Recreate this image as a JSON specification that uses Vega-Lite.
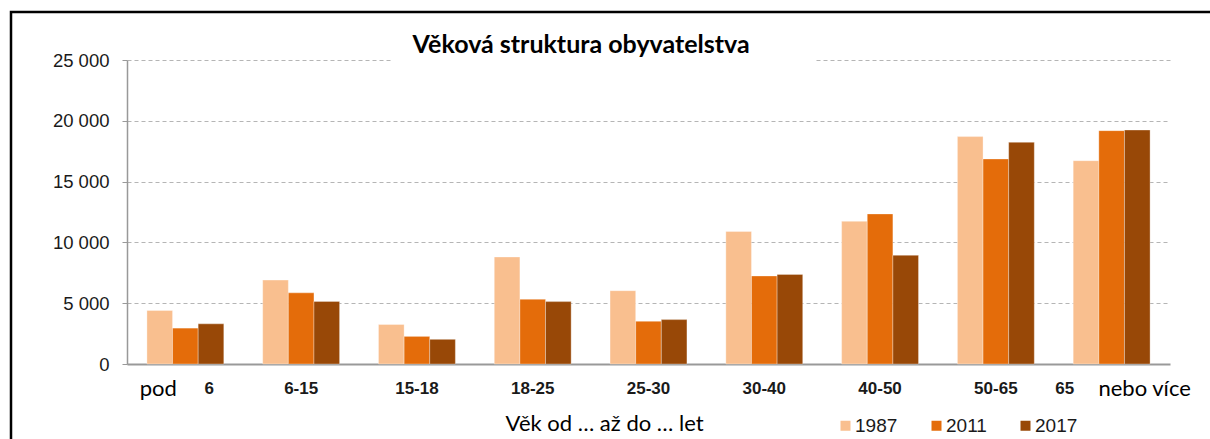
{
  "$schema": "https://vega.github.io/schema/vega-lite/v6.json",
  "autosize": {"type": "none"},
  "padding": {"left": 11, "top": 12, "right": -3, "bottom": -3},
  "width": 1202,
  "height": 430,
  "background": "white",
  "config": {
    "view": {"stroke": "black", "strokeWidth": 2.5}
  },
  "title": {
    "text": "Věková struktura obyvatelstva",
    "font": "Lato",
    "fontSize": 25,
    "fontWeight": "bold",
    "color": "black",
    "anchor": "middle",
    "frame": "group",
    "offset": -41,
    "baseline": "alphabetic",
    "dx": -31,
    "dy": 25
  },
  "encoding": {
    "x": {
      "field": "cat",
      "type": "nominal",
      "sort": null,
      "scale": {
        "domain": ["pod 6", "6-15", "15-18", "18-25", "25-30", "30-40", "40-50", "50-65", "65 nebo více"],
        "range": [116, 1159],
        "paddingInner": 0.336,
        "paddingOuter": 0.172
      },
      "axis": {
        "offset": -78,
        "ticks": false,
        "labelAngle": 0,
        "labelExpr": "datum.value == 'pod 6' ? '6' : datum.value == '65 nebo více' ? '65' : datum.value",
        "labelOffset": {
          "condition": [
            {"test": "datum.value == 'pod 6'", "value": 24},
            {"test": "datum.value == '65 nebo více'", "value": -47}
          ],
          "value": 0
        },
        "labelFont": "Liberation Sans",
        "labelFontSize": 17,
        "labelFontWeight": "bold",
        "labelColor": "#1a1a1a",
        "labelBaseline": "alphabetic",
        "labelPadding": 29,
        "domainColor": "#999999",
        "domainWidth": 2,
        "title": "Věk od … až do … let",
        "titleFont": "Lato",
        "titleFontSize": 22,
        "titleFontWeight": "normal",
        "titleColor": "black",
        "titleX": 593,
        "titleY": 66,
        "titleBaseline": "alphabetic",
        "titleAlign": "center"
      }
    }
  },
  "layer": [
    {
      "data": {
        "values": [
          {"cat": "pod 6", "year": "1987", "value": 4400},
          {"cat": "pod 6", "year": "2011", "value": 2950},
          {"cat": "pod 6", "year": "2017", "value": 3300},
          {"cat": "6-15", "year": "1987", "value": 6900},
          {"cat": "6-15", "year": "2011", "value": 5850},
          {"cat": "6-15", "year": "2017", "value": 5150},
          {"cat": "15-18", "year": "1987", "value": 3250},
          {"cat": "15-18", "year": "2011", "value": 2270},
          {"cat": "15-18", "year": "2017", "value": 2030},
          {"cat": "18-25", "year": "1987", "value": 8800},
          {"cat": "18-25", "year": "2011", "value": 5320},
          {"cat": "18-25", "year": "2017", "value": 5130},
          {"cat": "25-30", "year": "1987", "value": 6030},
          {"cat": "25-30", "year": "2011", "value": 3510},
          {"cat": "25-30", "year": "2017", "value": 3650},
          {"cat": "30-40", "year": "1987", "value": 10900},
          {"cat": "30-40", "year": "2011", "value": 7240},
          {"cat": "30-40", "year": "2017", "value": 7370},
          {"cat": "40-50", "year": "1987", "value": 11730},
          {"cat": "40-50", "year": "2011", "value": 12340},
          {"cat": "40-50", "year": "2017", "value": 8940},
          {"cat": "50-65", "year": "1987", "value": 18700},
          {"cat": "50-65", "year": "2011", "value": 16860},
          {"cat": "50-65", "year": "2017", "value": 18230},
          {"cat": "65 nebo více", "year": "1987", "value": 16720},
          {"cat": "65 nebo více", "year": "2011", "value": 19190},
          {"cat": "65 nebo více", "year": "2017", "value": 19240}
        ]
      },
      "mark": {"type": "bar", "stroke": "#ffffff", "strokeWidth": 0.8, "strokeOpacity": 0.4},
      "encoding": {
        "xOffset": {
          "field": "year",
          "type": "nominal",
          "scale": {"paddingInner": 0, "paddingOuter": 0}
        },
        "y": {
          "field": "value",
          "type": "quantitative",
          "scale": {"domain": [0, 25000], "range": [352, 48], "nice": false, "zero": true},
          "axis": {
            "values": [0, 5000, 10000, 15000, 20000, 25000],
            "offset": -116,
            "labelExpr": "replace(format(datum.value, ',d'), ',', ' ')",
            "labelFont": "Liberation Sans",
            "labelFontSize": 18.5,
            "labelColor": "#1a1a1a",
            "labelPadding": 13,
            "tickSize": 5,
            "tickColor": "#999999",
            "domainColor": "#999999",
            "domainWidth": 1.5,
            "grid": true,
            "gridColor": "#b5b5b5",
            "gridWidth": 1,
            "gridDash": {
              "condition": {
                "test": "datum.value === 25000",
                "value": [4,3,4,3,4,3,4,3,4,3,4,3,4,3,4,3,4,3,4,3,4,3,4,3,4,3,4,3,4,3,4,3,4,3,4,3,4,3,4,3,4,3,4,3,4,3,4,3,4,3,4,3,4,3,4,3,4,3,4,3,4,3,4,3,4,3,4,3,4,3,4,3,4,3,4,426,4,3,4,3,4,3,4,3,4,3,4,3,4,3,4,3,4,3,4,3,4,3,4,3,4,3,4,3,4,3,4,3,4,3,4,3,4,3,4,3,4,3,4,3,4,3,4,3,4,3,4,3,4,3,4,3,4,3,4,3,4,3,4,3,4,3,4,3,4,3,4,3,4,3,4,3,4,3,4,3,4,3,4,3,4,3,4,3,4,3,4,3,4,3,4,3,4,3,4,3]
              },
              "value": [4, 3]
            },
            "title": null
          }
        },
        "color": {
          "field": "year",
          "type": "nominal",
          "scale": {"domain": ["1987", "2011", "2017"], "range": ["#F9BF8F", "#E46C0A", "#984807"]},
          "legend": {
            "orient": "none",
            "legendX": 825,
            "legendY": 404,
            "direction": "horizontal",
            "title": null,
            "symbolType": "square",
            "symbolSize": 100,
            "symbolStrokeWidth": 0,
            "labelFont": "Liberation Sans",
            "labelFontSize": 19,
            "labelColor": "#1a1a1a",
            "labelOffset": 0,
            "columnPadding": 29,
            "padding": 0
          }
        }
      }
    },
    {
      "data": {"values": [{"cat": "pod 6", "t": "pod"}]},
      "mark": {"type": "text", "font": "Lato", "fontSize": 22, "color": "black", "align": "center", "baseline": "alphabetic", "dx": -27, "dy": 32},
      "encoding": {
        "y": {"datum": 0, "type": "quantitative"},
        "text": {"field": "t"}
      }
    },
    {
      "data": {"values": [{"cat": "65 nebo více", "t": "nebo více"}]},
      "mark": {"type": "text", "font": "Lato", "fontSize": 22, "color": "black", "align": "center", "baseline": "alphabetic", "dx": 33, "dy": 32},
      "encoding": {
        "y": {"datum": 0, "type": "quantitative"},
        "text": {"field": "t"}
      }
    }
  ]
}
